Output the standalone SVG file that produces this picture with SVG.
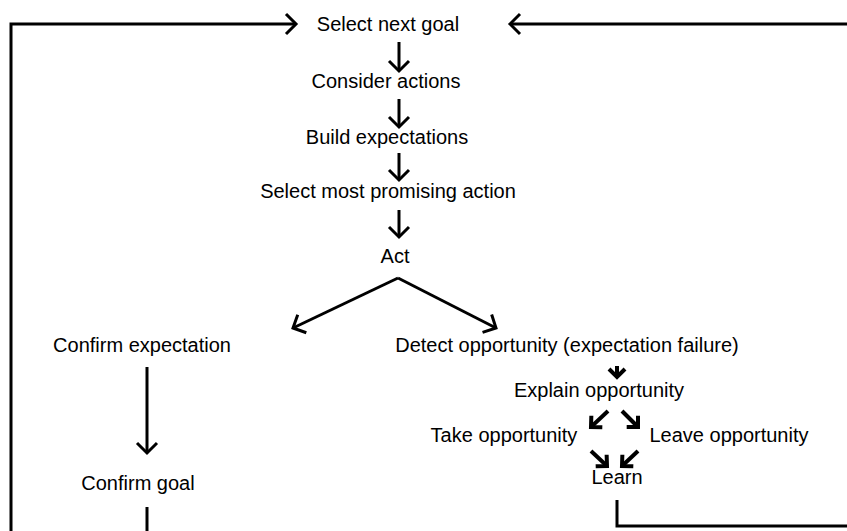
<svg xmlns="http://www.w3.org/2000/svg" width="847" height="531" viewBox="0 0 847 531">
<style>
text{font-family:"Liberation Sans",Arial,sans-serif;font-size:20px;fill:#000;text-anchor:middle}
.c{fill:none;stroke:#000;stroke-width:3;stroke-linecap:butt;stroke-linejoin:miter}
.s{fill:none;stroke:#000;stroke-width:4}
</style>
<defs>
<marker id="ah" markerUnits="userSpaceOnUse" viewBox="-14 -14 28 28" markerWidth="28" markerHeight="28" refX="0" refY="0" orient="auto" overflow="visible">
<path d="M-10,-10 L0,0 L-10,10" fill="none" stroke="#000" stroke-width="3"/>
</marker>
<marker id="ahs" markerUnits="userSpaceOnUse" viewBox="-14 -14 28 28" markerWidth="28" markerHeight="28" refX="0" refY="0" orient="auto" overflow="visible">
<path d="M-8,-8 L0,0 L-8,8" fill="none" stroke="#000" stroke-width="4"/>
</marker>
</defs>
<rect width="847" height="531" fill="#fff"/>
<g id="connectors">
<polyline class="c" points="11,531 11,24 296,24" marker-end="url(#ah)"/>
<line class="c" x1="847" y1="24" x2="510" y2="24" marker-end="url(#ah)"/>
<line class="c" x1="399" y1="42" x2="399" y2="71" marker-end="url(#ah)"/>
<line class="c" x1="399" y1="99" x2="399" y2="127" marker-end="url(#ah)"/>
<line class="c" x1="399" y1="153" x2="399" y2="180" marker-end="url(#ah)"/>
<line class="c" x1="399" y1="210" x2="399" y2="237" marker-end="url(#ah)"/>
<line class="c" x1="398" y1="278" x2="293" y2="328" marker-end="url(#ah)"/>
<line class="c" x1="398" y1="278" x2="496" y2="328" marker-end="url(#ah)"/>
<line class="c" x1="147" y1="367" x2="147" y2="453" marker-end="url(#ah)"/>
<line class="c" x1="147" y1="507" x2="147" y2="531"/>
<line class="s" x1="617" y1="366" x2="617" y2="377" marker-end="url(#ahs)"/>
<line class="s" x1="608" y1="411" x2="591" y2="427" marker-end="url(#ahs)"/>
<line class="s" x1="622" y1="411" x2="638" y2="427" marker-end="url(#ahs)"/>
<line class="s" x1="591" y1="451" x2="607" y2="466" marker-end="url(#ahs)"/>
<line class="s" x1="638" y1="451" x2="622" y2="466" marker-end="url(#ahs)"/>
<polyline class="c" points="617,500 617,526 847,526"/>
</g>
<g id="n-select-goal"><text x="388" y="31">Select next goal</text></g>
<g id="n-consider"><text x="386" y="88">Consider actions</text></g>
<g id="n-build"><text x="387" y="144">Build expectations</text></g>
<g id="n-select-action"><text x="388" y="198">Select most promising action</text></g>
<g id="n-act"><text x="395" y="263">Act</text></g>
<g id="n-confirm-exp"><text x="142" y="352">Confirm expectation</text></g>
<g id="n-detect"><text x="567" y="352">Detect opportunity (expectation failure)</text></g>
<g id="n-explain"><text x="599" y="397">Explain opportunity</text></g>
<g id="n-take"><text x="504" y="442">Take opportunity</text></g>
<g id="n-leave"><text x="729" y="442">Leave opportunity</text></g>
<g id="n-confirm-goal"><text x="138" y="490">Confirm goal</text></g>
<g id="n-learn"><text x="617" y="484">Learn</text></g>
</svg>
